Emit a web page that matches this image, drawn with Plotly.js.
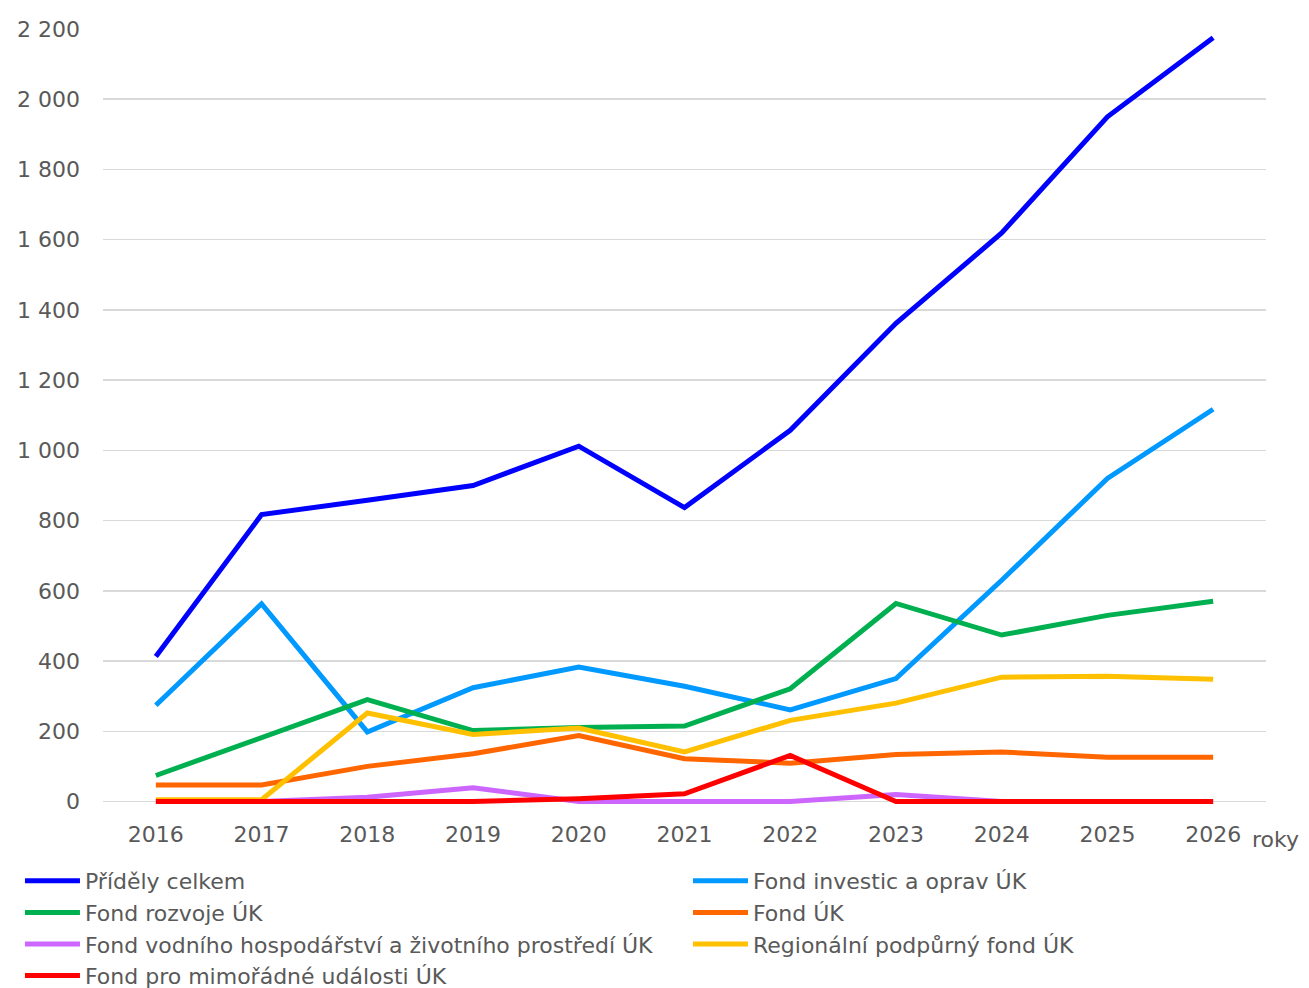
<!DOCTYPE html>
<html>
<head>
<meta charset="utf-8">
<script src="https://cdn.plot.ly/plotly-3.0.1.min.js"></script>
<style>html,body{margin:0;padding:0;background:#fff;}#chart{width:1309px;height:988px;}</style>
</head>
<body>
<div id="chart"></div>
<script>
const years = ['2016','2017','2018','2019','2020','2021','2022','2023','2024','2025','2026'];
const pridelyCelkem = [413, 817, 858, 900, 1012, 837, 1057, 1362, 1619, 1950, 2175];
const fondInvestic = [274, 563, 198, 324, 383, 328, 261, 350, 630, 920, 1117];
const fondRozvoje = [74, 183, 290, 202, 211, 215, 321, 564, 474, 530, 570];
const fondUK = [47, 47, 100, 136, 188, 122, 109, 134, 141, 126, 126];
const fondVodniho = [0, 0, 12, 39, 0, 0, 0, 20, 0, 0, 0];
const regionalni = [5, 5, 252, 191, 209, 141, 231, 280, 354, 357, 348];
const fondMimoradne = [0, 0, 0, 0, 8, 22, 131, 0, 0, 0, 0];

const names = ['Příděly celkem','Fond investic a oprav ÚK','Fond rozvoje ÚK','Fond ÚK',
  'Fond vodního hospodářství a životního prostředí ÚK','Regionální podpůrný fond ÚK','Fond pro mimořádné události ÚK'];
const series = [pridelyCelkem, fondInvestic, fondRozvoje, fondUK, fondVodniho, regionalni, fondMimoradne];
const colors = ['#0000FF','#0099FF','#00B050','#FF6600','#CC66FF','#FFC000','#FF0000'];
const legendOf = ['legend','legend2','legend','legend2','legend','legend2','legend'];

const traces = series.map((s,i)=>({
  type:'scatter', mode:'lines', x:years, y:s, name:names[i],
  line:{color:colors[i], width:5}, legend:legendOf[i], legendrank:i+1
}));

const font = "'DejaVu Sans', sans-serif";
const legendCommon = {orientation:'v', xanchor:'left', y:-0.0709, yanchor:'top',
  itemwidth:55, font:{size:22, color:'#595959', family:font},
  traceorder:'normal', bgcolor:'rgba(0,0,0,0)', borderwidth:0, tracegroupgap:0};
const layout = {
  width:1309, height:988,
  margin:{l:103, r:43, t:29, b:183, autoexpand:false},
  paper_bgcolor:'#fff', plot_bgcolor:'#fff',
  separators:', ',
  font:{family:font, size:22, color:'#595959'},
  showlegend:true,
  xaxis:{type:'category', showgrid:false, zeroline:false, showline:false, ticks:'',
    ticklabelstandoff:14, tickfont:{size:22, color:'#595959'}, range:[-0.5,10.5]},
  yaxis:{range:[-10,2200], tickvals:[0,200,400,600,800,1000,1200,1400,1600,1800,2000,2200],
    tickformat:',d', showgrid:true, gridcolor:'#D9D9D9', gridwidth:1.5,
    zeroline:false, showline:false, ticks:'', ticklabelstandoff:22, tickfont:{size:22, color:'#595959'}},
  legend:Object.assign({}, legendCommon, {x:-0.0714}),
  legend2:Object.assign({}, legendCommon, {x:0.503}),
  annotations:[{xref:'paper', yref:'paper', x:0.986, y:-0.0451, xanchor:'left', yanchor:'middle',
    text:'roky', showarrow:false, font:{size:22, color:'#595959', family:font}}]
};
Plotly.newPlot('chart', traces, layout, {displayModeBar:false, staticPlot:true});
</script>
</body>
</html>
